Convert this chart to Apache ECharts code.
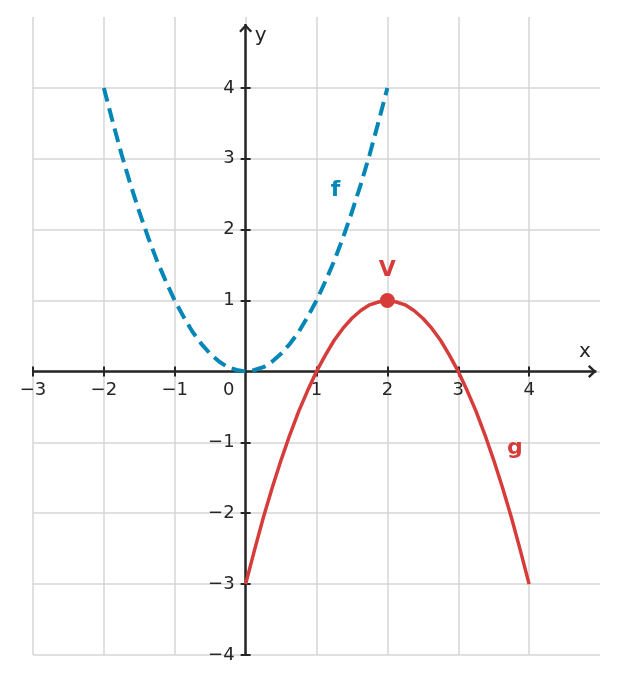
<!DOCTYPE html>
<html>
<head>
<meta charset="utf-8">
<script src="https://cdn.jsdelivr.net/npm/echarts@6/dist/echarts.min.js"></script>
<style>html,body{margin:0;padding:0;background:#fff}#c{width:618px;height:684px}</style>
</head>
<body>
<div id="c"></div>
<script>
// ---- data ----
var fData = [
  [-2, 4], [-1.875, 3.52], [-1.75, 3.06], [-1.625, 2.64], [-1.5, 2.25], [-1.375, 1.89],
  [-1.25, 1.56], [-1.125, 1.27], [-1, 1], [-0.875, 0.77], [-0.75, 0.56], [-0.625, 0.39],
  [-0.5, 0.25], [-0.375, 0.14], [-0.25, 0.06], [-0.125, 0.02], [0, 0], [0.125, 0.02],
  [0.25, 0.06], [0.375, 0.14], [0.5, 0.25], [0.625, 0.39], [0.75, 0.56], [0.875, 0.77],
  [1, 1], [1.125, 1.27], [1.25, 1.56], [1.375, 1.89], [1.5, 2.25], [1.625, 2.64],
  [1.75, 3.06], [1.875, 3.52], [2, 4]
];
var gData = [
  [0, -3], [0.125, -2.52], [0.25, -2.06], [0.375, -1.64], [0.5, -1.25], [0.625, -0.89],
  [0.75, -0.56], [0.875, -0.27], [1, 0], [1.125, 0.23], [1.25, 0.44], [1.375, 0.61],
  [1.5, 0.75], [1.625, 0.86], [1.75, 0.94], [1.875, 0.98], [2, 1], [2.125, 0.98],
  [2.25, 0.94], [2.375, 0.86], [2.5, 0.75], [2.625, 0.61], [2.75, 0.44], [2.875, 0.23],
  [3, 0], [3.125, -0.27], [3.25, -0.56], [3.375, -0.89], [3.5, -1.25], [3.625, -1.64],
  [3.75, -2.06], [3.875, -2.52], [4, -3]
];
var vertex = [[2, 1]];
var curveLabels = [
  {name: 'f', value: [1.27, 2.56], color: 'blue'},
  {name: 'g', value: [3.8, -1.08], color: 'red'}
];
var xTicks = [-3, -2, -1, 0, 1, 2, 3, 4];
var yTicks = [-4, -3, -2, -1, 0, 1, 2, 3, 4];
var xRange = [-3, 5];
var yRange = [-4, 5];
var xAxisEnd = 4.95;
var yAxisEnd = 4.9;

// ---- styles ----
var BLUE = '#0487b6';
var RED = '#d63d3a';
var INK = '#262626';
var GRID = '#d6d6d6';
var FONT = 'DejaVu Sans';
var TICK_FS = 18;
var CHEVRON = 'path://M6,0.5L6,0.5M0,14L6,8L12,14L10.4,15.5L6,11.1L1.6,15.5Z';

function fmt(v) { return String(v).replace('-', '\u2212'); }

function xAxisDef(inside) {
  return {
    type: 'value', min: xRange[0], max: xRange[1], interval: 1, position: 'bottom', z: 3,
    name: inside ? '' : 'x', nameLocation: 'end', nameGap: -15,
    nameTextStyle: {fontFamily: FONT, fontSize: 20, color: INK, align: 'center', verticalAlign: 'bottom', padding: [0, 0, 10, 0]},
    axisLine: {show: false, onZero: false},
    axisTick: {show: true, inside: inside, length: 5, customValues: xTicks.filter(function (v) { return v !== 0; }), lineStyle: {color: INK, width: 2}},
    axisLabel: {
      show: !inside, margin: 10, fontFamily: FONT, fontSize: TICK_FS, color: INK,
      customValues: xTicks,
      formatter: function (v) { return v === 0 ? '{z|0}' : fmt(v); },
      rich: {z: {fontFamily: FONT, fontSize: TICK_FS, color: INK, padding: [0, 34, 0, 0]}}
    },
    splitLine: {show: false}
  };
}
function yAxisDef(inside) {
  return {
    type: 'value', min: yRange[0], max: yRange[1], interval: 1, position: 'left', z: 3,
    name: inside ? '' : 'y', nameLocation: 'end', nameGap: -19,
    nameTextStyle: {fontFamily: FONT, fontSize: 20, color: INK, align: 'left', verticalAlign: 'middle', padding: [0, 0, 0, 9]},
    axisLine: {show: false, onZero: false},
    axisTick: {show: true, inside: inside, length: 5, customValues: yTicks.filter(function (v) { return v !== 0; }), lineStyle: {color: INK, width: 2}},
    axisLabel: {
      show: !inside, margin: 11, fontFamily: FONT, fontSize: TICK_FS, color: INK,
      customValues: yTicks.filter(function (v) { return v !== 0; }),
      formatter: function (v) { return v === 0 ? '' : fmt(v); }
    },
    splitLine: {show: false}
  };
}

var gridLines = xTicks.map(function (v) { return {xAxis: v}; })
  .concat(yTicks.map(function (v) { return {yAxis: v}; }));

var chart = echarts.init(document.getElementById('c'), null, {renderer: 'canvas'});
chart.setOption({
  animation: false,
  backgroundColor: '#fff',
  textStyle: {fontFamily: FONT},
  grid: {left: 33, right: 18, top: 17, bottom: 29, containLabel: false, outerBoundsMode: 'none'},
  xAxis: [xAxisDef(false), xAxisDef(true)],
  yAxis: [yAxisDef(false), yAxisDef(true)],
  series: [
    {
      name: 'f', type: 'line', data: fData, smooth: false, showSymbol: false, z: 4,
      lineStyle: {color: BLUE, width: 4, type: [14, 7], cap: 'butt'},
      markLine: {
        silent: true, z: 2, animation: false,
        symbol: ['none', CHEVRON], symbolSize: [13, 17],
        label: {show: false},
        lineStyle: {color: INK, width: 2.5, type: 'solid'},
        data: [
          [{coord: [xRange[0], 0]}, {coord: [xAxisEnd, 0]}],
          [{coord: [0, yRange[0]]}, {coord: [0, yAxisEnd]}]
        ]
      }
    },
    {
      name: 'g', type: 'line', data: gData, smooth: false, showSymbol: false, z: 4,
      lineStyle: {color: RED, width: 3.5},
      markLine: {
        silent: true, z: 1, animation: false,
        symbol: ['none', 'none'],
        label: {show: false},
        lineStyle: {color: GRID, width: 1.5, type: 'solid'},
        data: gridLines
      }
    },
    {
      name: 'V', type: 'scatter', data: vertex, symbol: 'circle', symbolSize: 15, z: 5,
      itemStyle: {color: RED, opacity: 1},
      label: {show: true, position: 'top', distance: 12, formatter: 'V', fontFamily: FONT, fontSize: 22, fontWeight: 'bold', color: RED}
    },
    {
      name: 'labels', type: 'scatter', symbolSize: 0, z: 5, silent: true,
      itemStyle: {opacity: 1},
      data: curveLabels.map(function (d) {
        return {name: d.name, value: d.value, label: {color: d.color === 'blue' ? BLUE : RED}};
      }),
      label: {show: true, position: 'inside', formatter: '{b}', fontFamily: FONT, fontSize: 22, fontWeight: 'bold'}
    }
  ]
});

// move the axes (ticks, labels, names) onto the origin, using the library's own scales
var origin = chart.convertToPixel({xAxisIndex: 0, yAxisIndex: 0}, [0, 0]);
var corner = chart.convertToPixel({xAxisIndex: 0, yAxisIndex: 0}, [xRange[0], yRange[0]]);
var offX = -(corner[1] - origin[1]);
var offY = -(origin[0] - corner[0]);
chart.setOption({
  xAxis: [{offset: offX}, {offset: offX}],
  yAxis: [{offset: offY}, {offset: offY}]
});
</script>
</body>
</html>
